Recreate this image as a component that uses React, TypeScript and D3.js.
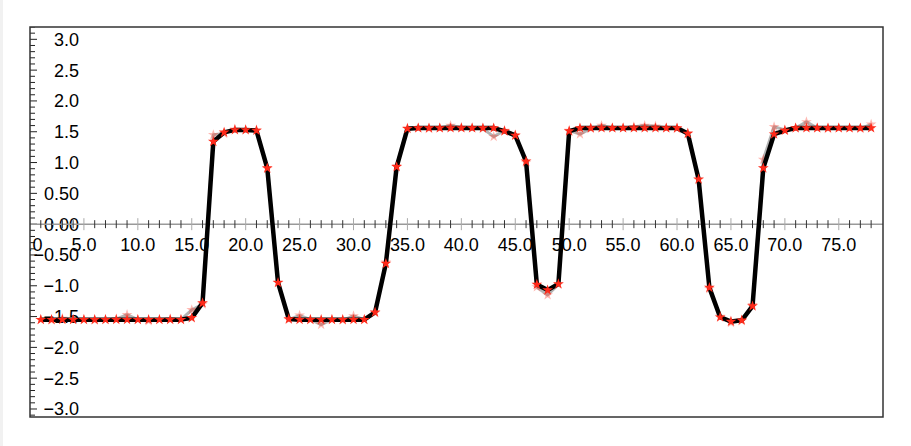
import React, { useRef, useEffect } from "react";
import * as d3 from "d3";

// sample index along the x axis
const xValues = [
  1, 2, 3, 4, 5, 6, 7, 8, 9, 10, 11, 12, 13, 14, 15, 16, 17, 18, 19, 20,
  21, 22, 23, 24, 25, 26, 27, 28, 29, 30, 31, 32, 33, 34, 35, 36, 37, 38, 39, 40,
  41, 42, 43, 44, 45, 46, 47, 48, 49, 50, 51, 52, 53, 54, 55, 56, 57, 58, 59, 60,
  61, 62, 63, 64, 65, 66, 67, 68, 69, 70, 71, 72, 73, 74, 75, 76, 77, 78,
];

// raw (noisy) signal - grey line
const rawValues = [
  -1.55, -1.56, -1.53, -1.55, -1.55, -1.56, -1.55, -1.54, -1.47, -1.55,
  -1.57, -1.55, -1.54, -1.55, -1.39, -1.3, 1.45, 1.47, 1.54, 1.53,
  1.53, 0.9, -0.94, -1.55, -1.48, -1.55, -1.63, -1.55, -1.56, -1.49,
  -1.55, -1.44, -0.62, 0.95, 1.56, 1.56, 1.55, 1.56, 1.6, 1.57,
  1.56, 1.55, 1.42, 1.52, 1.45, 1.0, -1.02, -1.15, -0.98, 1.52,
  1.46, 1.55, 1.6, 1.56, 1.56, 1.58, 1.6, 1.59, 1.56, 1.55,
  1.48, 0.72, -1.05, -1.5, -1.6, -1.57, -1.31, 1.05, 1.58, 1.53,
  1.56, 1.66, 1.56, 1.55, 1.56, 1.56, 1.55, 1.62,
];

// smoothed signal - black line with red stars
const smoothValues = [
  -1.55, -1.55, -1.55, -1.55, -1.55, -1.55, -1.55, -1.55, -1.55, -1.55,
  -1.55, -1.55, -1.55, -1.55, -1.52, -1.28, 1.34, 1.49, 1.53, 1.53,
  1.52, 0.91, -0.95, -1.54, -1.55, -1.55, -1.55, -1.55, -1.55, -1.55,
  -1.55, -1.43, -0.64, 0.93, 1.55, 1.56, 1.56, 1.56, 1.56, 1.56,
  1.56, 1.56, 1.56, 1.51, 1.44, 1.02, -0.98, -1.07, -0.97, 1.51,
  1.56, 1.56, 1.56, 1.56, 1.56, 1.56, 1.56, 1.56, 1.56, 1.56,
  1.47, 0.73, -1.03, -1.51, -1.58, -1.56, -1.33, 0.91, 1.46, 1.52,
  1.56, 1.56, 1.56, 1.56, 1.56, 1.56, 1.56, 1.56,
];

const xTickLabels = [0, 5, 10, 15, 20, 25, 30, 35, 40, 45, 50, 55, 60, 65, 70, 75];
const yTickLabels = [3, 2.5, 2, 1.5, 1, 0.5, 0, -0.5, -1, -1.5, -2, -2.5, -3];

const W = 911;
const H = 446;

const fmtY = (v: number) => {
  const s = Math.abs(v) < 1 ? Math.abs(v).toFixed(2) : Math.abs(v).toFixed(1);
  return v < 0 ? "\u2212" + s : s;
};

const App = () => {
  const svgRef = useRef<SVGSVGElement>(null);

  useEffect(() => {
    const root = d3.select(svgRef.current);
    root.selectAll("*").remove();

    const left = 30, right = 883, top = 27, bottom = 417;
    const x = d3.scaleLinear().domain([0, 79.1]).range([left, right]);
    const y = d3.scaleLinear().domain([-3.13, 3.2]).range([bottom, top]);

    root.append("rect").attr("width", W).attr("height", H).attr("fill", "#fff");
    root.append("rect").attr("x", 0).attr("y", 0).attr("width", 3).attr("height", H).attr("fill", "#f1f1f1");

    root.append("clipPath").attr("id", "plot-clip")
      .append("rect").attr("x", left).attr("y", top).attr("width", right - left).attr("height", bottom - top);

    const g = root.append("g").attr("clip-path", "url(#plot-clip)");
    const font = "'Liberation Sans', Arial, sans-serif";

    // left axis minor ticks (inside frame)
    const yMinor = d3.range(-32, 33).map((i) => i / 10);
    g.selectAll(".ytick").data(yMinor).enter().append("line")
      .attr("x1", left).attr("x2", (d) => (Math.abs(Math.round(d * 10)) % 5 === 0 ? left + 7 : left + 5))
      .attr("y1", (d) => y(d)).attr("y2", (d) => y(d))
      .attr("stroke", "#222").attr("stroke-width", 1);

    g.selectAll(".ylab").data(yTickLabels).enter().append("text")
      .attr("x", 79).attr("y", (d) => y(d))
      .attr("dy", "0.36em").attr("text-anchor", "end")
      .attr("font-family", font).attr("font-size", 18).attr("fill", "#000")
      .text((d) => fmtY(d));

    // x axis through zero
    g.append("line").attr("x1", left).attr("x2", right).attr("y1", y(0)).attr("y2", y(0))
      .attr("stroke", "#999").attr("stroke-width", 1.5);
    const xMinor = d3.range(1, 79);
    g.selectAll(".xtick").data(xMinor).enter().append("line")
      .attr("x1", (d) => x(d)).attr("x2", (d) => x(d))
      .attr("y1", (d) => (d % 5 === 0 ? y(0) - 6 : y(0) - 4))
      .attr("y2", (d) => (d % 5 === 0 ? y(0) + 6 : y(0) + 4))
      .attr("stroke", (d) => (d % 5 === 0 ? "#aaa" : "#333"))
      .attr("stroke-width", 1);

    g.selectAll(".xlab").data(xTickLabels).enter().append("text")
      .attr("x", (d) => x(d)).attr("y", y(0) + 27)
      .attr("text-anchor", "middle")
      .attr("font-family", font).attr("font-size", 18).attr("fill", "#000")
      .text((d) => d.toFixed(1));

    const rawPts = xValues.map((v, i) => [v, rawValues[i]] as [number, number]);
    const smoothPts = xValues.map((v, i) => [v, smoothValues[i]] as [number, number]);
    const line = d3.line<[number, number]>().x((d) => x(d[0])).y((d) => y(d[1]));
    const star = d3.symbol().type(d3.symbolStar).size(36);

    g.append("path").datum(rawPts).attr("d", line)
      .attr("fill", "none").attr("stroke", "#777").attr("stroke-opacity", 0.55)
      .attr("stroke-width", 3).attr("stroke-linejoin", "round");
    g.selectAll(".rawstar").data(rawPts).enter().append("path")
      .attr("d", star).attr("transform", (d) => `translate(${x(d[0])},${y(d[1])})`)
      .attr("fill", "#ff3322").attr("fill-opacity", 0.35);

    g.append("path").datum(smoothPts).attr("d", line)
      .attr("fill", "none").attr("stroke", "#000")
      .attr("stroke-width", 4.5).attr("stroke-linejoin", "round");
    g.selectAll(".smoothstar").data(smoothPts).enter().append("path")
      .attr("d", star).attr("transform", (d) => `translate(${x(d[0])},${y(d[1])})`)
      .attr("fill", "#ff2a1a");

    // frame
    root.append("rect").attr("x", left).attr("y", top)
      .attr("width", right - left).attr("height", bottom - top)
      .attr("fill", "none").attr("stroke", "#333").attr("stroke-width", 1.5);
  }, []);

  return (
    <div style={{ position: "absolute", left: 0, top: 0, width: W, height: H, background: "#fff" }}>
      <svg ref={svgRef} width={W} height={H}></svg>
    </div>
  );
};

export default App;
